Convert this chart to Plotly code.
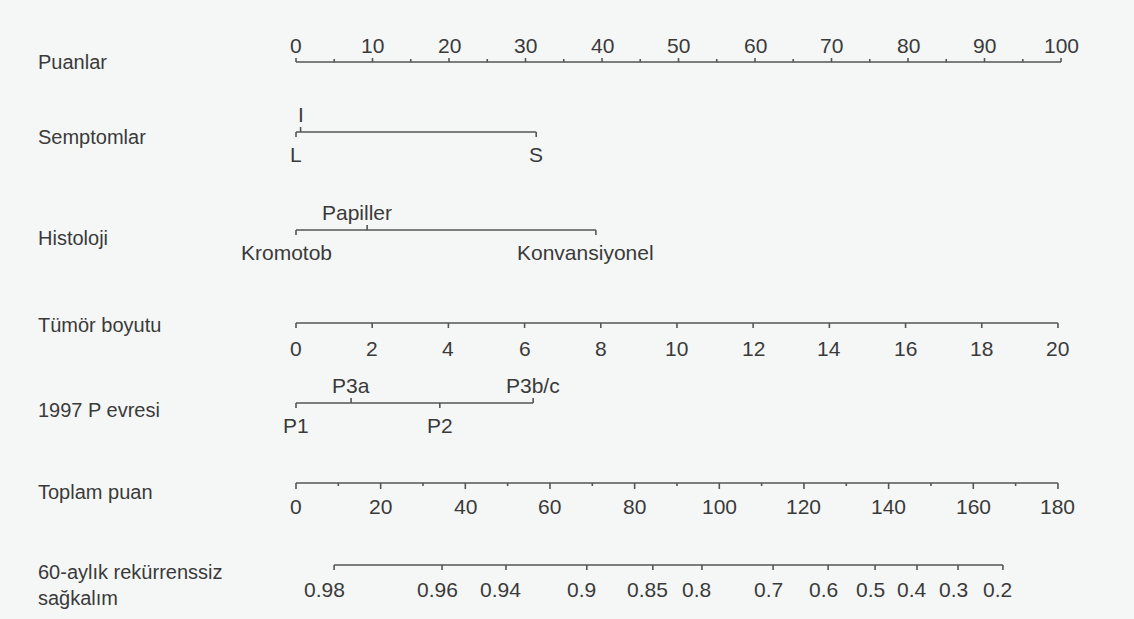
import plotly.graph_objects as go

# ---------------- data ----------------
row_labels = ["Puanlar", "Semptomlar", "Histoloji", "Tümör boyutu",
              "1997 P evresi", "Toplam puan", "60-aylık rekürrenssiz<br>sağkalım"]

points_ticks = [0, 10, 20, 30, 40, 50, 60, 70, 80, 90, 100]
points_minor = [5, 15, 25, 35, 45, 55, 65, 75, 85, 95]

symptom_labels = ["L", "I", "S"]
symptom_points = [0.0, 0.6, 31.4]
symptom_side = ["below", "above", "below"]

histology_labels = ["Kromotob", "Papiller", "Konvansiyonel"]
histology_points = [0.0, 9.3, 39.2]
histology_side = ["below", "above", "below"]

tumor_ticks = [0, 2, 4, 6, 8, 10, 12, 14, 16, 18, 20]
tumor_max = 20
tumor_max_points = 99.6

stage_labels = ["P1", "P3a", "P2", "P3b/c"]
stage_points = [0.0, 7.2, 18.8, 31.0]
stage_side = ["below", "above", "below", "above"]

total_ticks = [0, 20, 40, 60, 80, 100, 120, 140, 160, 180]
total_minor = [10, 30, 50, 70, 90, 110, 130, 150, 170]
total_max = 180

surv_labels = ["0.98", "0.96", "0.94", "0.9", "0.85", "0.8", "0.7",
               "0.6", "0.5", "0.4", "0.3", "0.2"]
surv_total_points = [9.0, 34.5, 49.6, 68.7, 84.3, 95.9, 112.7,
                     125.7, 136.8, 146.7, 156.4, 167.0]

# ---------------- layout constants ----------------
W, H = 1134, 619
X0_PX, PX_PER_PT = 296.0, 7.65
ROW_Y = [62, 132, 230, 323, 403, 483, 565]
LABEL_Y = [62, 137, 238, 325, 410, 492, 585]
LINE_COLOR = "#555555"
TEXT_COLOR = "#3a3a3a"
FONT = "Liberation Sans, Arial, Helvetica, sans-serif"
FS = 21

def tot2pts(v):
    return v * tumor_max_points / total_max

def size2pts(v):
    return v * tumor_max_points / tumor_max

fig = go.Figure()
annotations = []
seg_x, seg_y = [], []

def hline(x_start, x_end, y):
    seg_x.extend([x_start, x_end, None])
    seg_y.extend([y, y, None])

def tick(x, y, length):
    seg_x.extend([x, x, None])
    seg_y.extend([y, y + length, None])

def label(x, y, text, xshift=0, size=FS):
    annotations.append(dict(x=x, y=y, text=text, showarrow=False, xref="x", yref="y",
                            xanchor="center", yanchor="middle", xshift=xshift,
                            font=dict(family=FONT, size=size, color=TEXT_COLOR)))

# row labels
for txt, yy in zip(row_labels, LABEL_Y):
    annotations.append(dict(x=(36 - X0_PX) / PX_PER_PT, y=yy, text=txt, showarrow=False,
                            xref="x", yref="y", xanchor="left", yanchor="middle", align="left",
                            font=dict(family=FONT, size=FS - 1, color=TEXT_COLOR)))

# Puanlar (points) axis
y = ROW_Y[0]
hline(points_ticks[0], points_ticks[-1], y)
for v in points_ticks:
    tick(v, y, -4)
    label(v, y - 17, str(v))
for v in points_minor:
    tick(v, y, -3)

# categorical rows
def cat_row(y, labels, pts, sides, xshift=0):
    hline(min(pts), max(pts), y)
    for lab, p, s in zip(labels, pts, sides):
        if s == "above":
            tick(p, y, -5)
            label(p, y - 18, lab, xshift)
        else:
            tick(p, y, 5)
            label(p, y + 22, lab, xshift)

cat_row(ROW_Y[1], symptom_labels, symptom_points, symptom_side)
cat_row(ROW_Y[2], histology_labels, histology_points, histology_side, xshift=-10)

# tumor size
y = ROW_Y[3]
hline(size2pts(tumor_ticks[0]), size2pts(tumor_ticks[-1]), y)
for v in tumor_ticks:
    tick(size2pts(v), y, 5)
    label(size2pts(v), y + 25, str(v))

cat_row(ROW_Y[4], stage_labels, stage_points, stage_side)

# total points
y = ROW_Y[5]
hline(tot2pts(total_ticks[0]), tot2pts(total_ticks[-1]), y)
for v in total_ticks:
    tick(tot2pts(v), y, 6)
    label(tot2pts(v), y + 23, str(v))
for v in total_minor:
    tick(tot2pts(v), y, 3)

# survival
y = ROW_Y[6]
hline(tot2pts(surv_total_points[0]), tot2pts(surv_total_points[-1]), y)
for i, (lab, v) in enumerate(zip(surv_labels, surv_total_points)):
    tick(tot2pts(v), y, 5)
    label(tot2pts(v), y + 24, lab, xshift=-10 if i == 0 else -5)

fig.add_trace(go.Scatter(x=seg_x, y=seg_y, mode="lines",
                         line=dict(color=LINE_COLOR, width=1.6),
                         hoverinfo="skip", showlegend=False))

fig.update_layout(
    width=W, height=H,
    margin=dict(l=0, r=0, t=0, b=0),
    paper_bgcolor="#f5f7f6", plot_bgcolor="#f5f7f6",
    xaxis=dict(range=[-X0_PX / PX_PER_PT, (W - X0_PX) / PX_PER_PT], visible=False, fixedrange=True),
    yaxis=dict(range=[H, 0], visible=False, fixedrange=True),
    annotations=annotations,
    showlegend=False,
)

fig.write_html("out.html", config={"displayModeBar": False})

# remove default page margin so the figure sits at the window origin
with open("out.html", "r", encoding="utf-8") as f:
    html = f.read()
html = html.replace("<head>", "<head><style>html,body{margin:0;padding:0;overflow:hidden;}</style>", 1)
with open("out.html", "w", encoding="utf-8") as f:
    f.write(html)
